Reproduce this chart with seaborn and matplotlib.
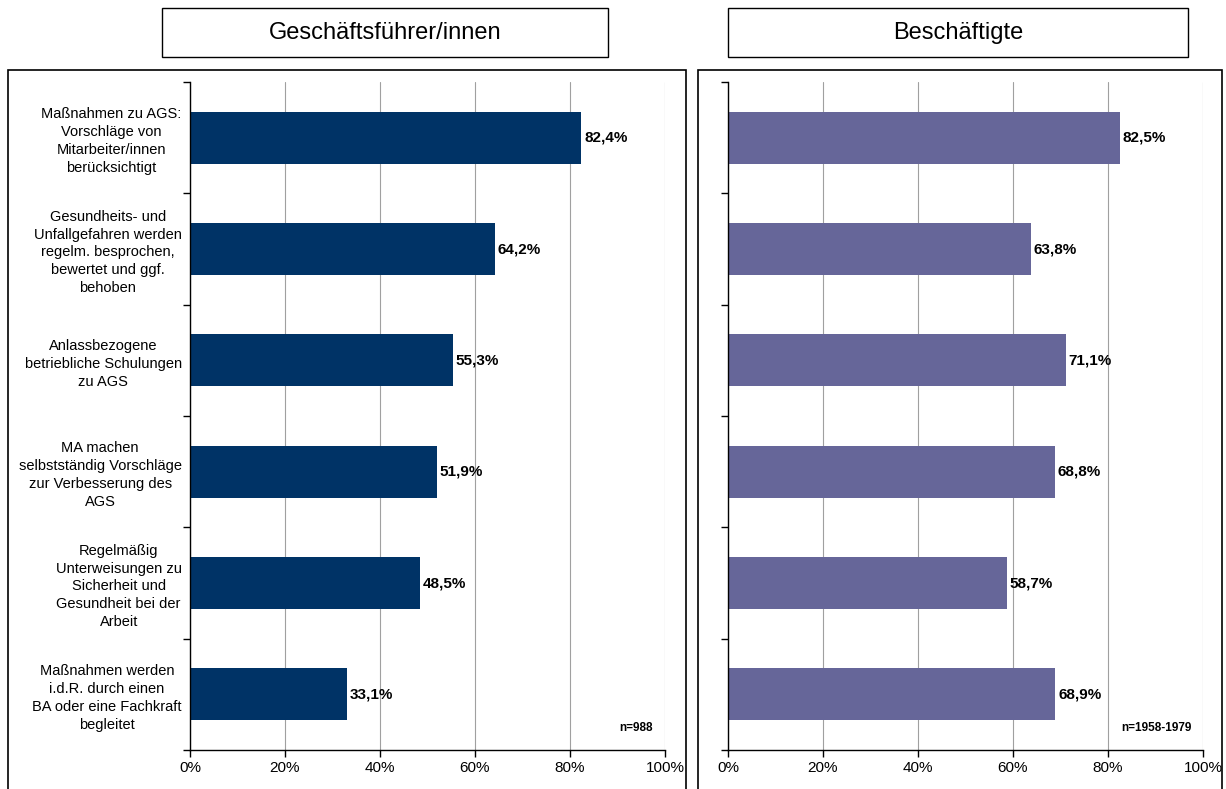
import numpy as np
import pandas as pd
import matplotlib
matplotlib.use("Agg")
import matplotlib.pyplot as plt
import matplotlib.patches as mpatches
import seaborn as sns

# data
categories = [
    "Maßnahmen zu AGS:\nVorschläge von\nMitarbeiter/innen\nberücksichtigt",
    "Gesundheits- und\nUnfallgefahren werden\nregelm. besprochen,\nbewertet und ggf.\nbehoben",
    "Anlassbezogene\nbetriebliche Schulungen\nzu AGS",
    "MA machen\nselbstständig Vorschläge\nzur Verbesserung des\nAGS",
    "Regelmäßig\nUnterweisungen zu\nSicherheit und\nGesundheit bei der\nArbeit",
    "Maßnahmen werden\ni.d.R. durch einen\nBA oder eine Fachkraft\nbegleitet",
]
gf_values = [82.4, 64.2, 55.3, 51.9, 48.5, 33.1]
bs_values = [82.5, 63.8, 71.1, 68.8, 58.7, 68.9]
panel_titles = ["Geschäftsführer/innen", "Beschäftigte"]
n_labels = ["n=988", "n=1958-1979"]
colors = ["#003366", "#666699"]
x_ticks = [0, 20, 40, 60, 80, 100]

sns.set_theme(style="white")
plt.rcParams["font.family"] = ["Liberation Sans", "DejaVu Sans"]
plt.rcParams["text.color"] = "black"
plt.rcParams["xtick.color"] = "black"
plt.rcParams["ytick.color"] = "black"

W, H = 1226, 789
fig = plt.figure(figsize=(W / 100, H / 100), dpi=100)

def fx(px):
    return px / W

def fy(py):
    return 1 - py / H

# outer frames and title boxes
for x0, x1 in [(8, 686), (698, 1222)]:
    fig.patches.append(mpatches.Rectangle((fx(x0), fy(800)), fx(x1 - x0), fy(70) - fy(800),
                                          transform=fig.transFigure, fill=False,
                                          edgecolor="black", linewidth=1.2))
for (x0, x1), title in zip([(162, 608), (728, 1188)], panel_titles):
    fig.patches.append(mpatches.Rectangle((fx(x0), fy(57)), fx(x1 - x0), fy(8) - fy(57),
                                          transform=fig.transFigure, fill=False,
                                          edgecolor="black", linewidth=1.0))
    fig.text(fx((x0 + x1) / 2), fy(33), title, ha="center", va="center", fontsize=17)

axes_specs = [(190, gf_values, True), (728, bs_values, False)]
for i, (left, values, show_labels) in enumerate(axes_specs):
    ax = fig.add_axes([fx(left), fy(750), fx(475), fy(82) - fy(750)])
    df = pd.DataFrame({"cat": categories, "val": values})
    sns.barplot(data=df, x="val", y="cat", orient="h", color=colors[i],
                saturation=1, width=0.47, linewidth=0, ax=ax)
    ax.set_xlim(0, 100)
    ax.set_ylim(5.5, -0.5)
    ax.set_xlabel("")
    ax.set_ylabel("")
    ax.set_xticks(x_ticks)
    ax.set_xticklabels([f"{t}%" for t in x_ticks], fontsize=11)
    ax.xaxis.grid(True, color="#a0a0a0", linewidth=0.8)
    ax.set_axisbelow(True)
    for s in ["top", "right"]:
        ax.spines[s].set_visible(False)
    for s in ["left", "bottom"]:
        ax.spines[s].set_color("black")
        ax.spines[s].set_linewidth(1.0)
    ax.tick_params(axis="x", direction="out", length=5, width=1, color="black",
                   bottom=True, pad=3)
    ax.set_yticks(np.arange(-0.5, 6.0, 1.0), minor=True)
    ax.tick_params(axis="y", which="minor", direction="out", length=5, width=1,
                   color="black", left=True)
    ax.tick_params(axis="y", which="major", length=0, pad=6)
    ax.set_yticks(range(len(categories)))
    if show_labels:
        ax.set_yticklabels(categories, fontsize=10.5, multialignment="center",
                           linespacing=1.35)
    else:
        ax.set_yticklabels([])
    for j, v in enumerate(values):
        ax.text(v + 0.6, j, f"{v:.1f}%".replace(".", ","), va="center", ha="left",
                fontsize=11, fontweight="bold")
    ax.text(0.975, 0.033, n_labels[i], transform=ax.transAxes, ha="right",
            va="center", fontsize=8.5, fontweight="bold")

fig.savefig("out.png", dpi=100)
